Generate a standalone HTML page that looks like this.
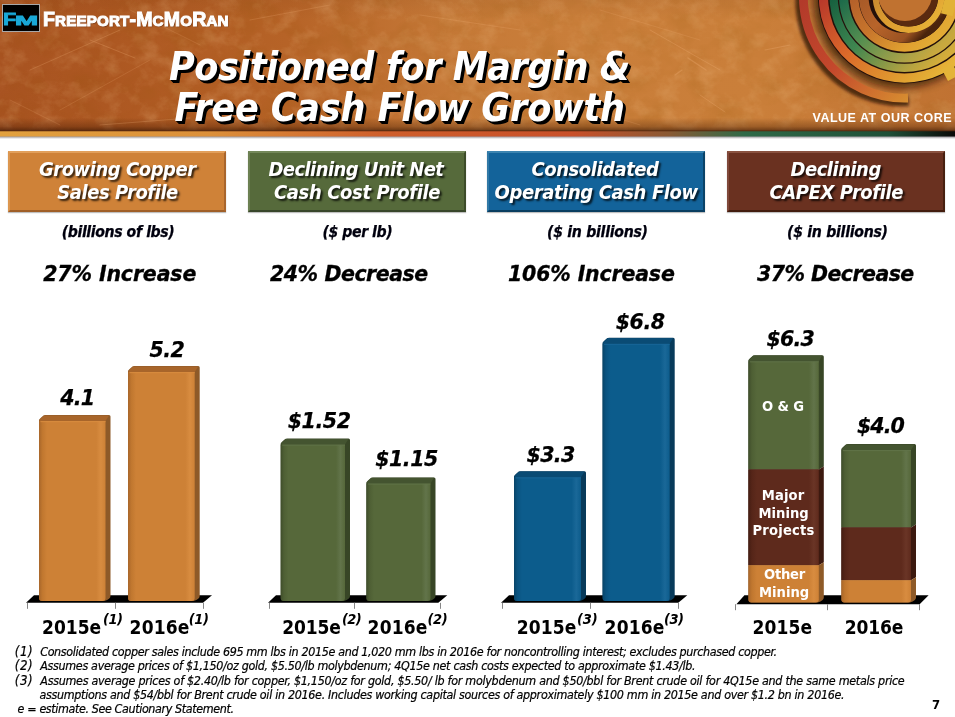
<!DOCTYPE html>
<html lang="en">
<head>
<meta charset="utf-8">
<title>Positioned for Margin &amp; Free Cash Flow Growth</title>
<style>
html,body{margin:0;padding:0;background:#fff;}
body{width:955px;height:717px;position:relative;overflow:hidden;font-family:'DejaVu Sans Condensed','DejaVu Sans','Liberation Sans',sans-serif;}
.t{position:absolute;white-space:pre;margin:0;padding:0;}
#hdr{position:absolute;left:0;top:0;width:955px;height:142px;display:block;}
.box{position:absolute;top:151.2px;height:57.2px;width:213.6px;border-style:solid;border-width:2px;box-shadow:0 1px 1px rgba(0,0,0,.25);}
#b1{left:8.4px;background:#cf8238;border-color:#e2a05c #a9662c #a05f28 #dc964f;}
#b2{left:248px;background:#566a3b;border-color:#74885a #3d4c29 #38462a #6c8052;}
#b3{left:487px;background:#13639a;border-color:#3c84b0 #0a4368 #093d60 #3179a6;}
#b4{left:727.2px;background:#6a3120;border-color:#8a5240 #48200f #421c0e #80483a;}
#logo{position:absolute;left:2px;top:4px;width:36px;height:26px;background:#000;border:1px solid #a8a8a8;overflow:hidden;}
#logo b{position:absolute;color:#19a8d8;font-family:'Liberation Sans','DejaVu Sans',sans-serif;font-weight:bold;-webkit-text-stroke:0.8px #19a8d8;transform-origin:0 0;white-space:pre;}
#lf{left:-0.3px;top:6.6px;font-size:16.6px;line-height:16.6px;transform:scaleX(1.3);-webkit-text-stroke:2.2px #19a8d8;}
#lm{left:11.7px;top:10.1px;font-size:12.6px;line-height:12.6px;transform:scaleX(2.2);-webkit-text-stroke:1.3px #19a8d8;}
#charts{position:absolute;left:0;top:0;width:955px;height:717px;}
</style>
</head>
<body>
<svg id="hdr" viewBox="0 0 955 142">
<defs>
<linearGradient id="hg" x1="0" y1="0" x2="1" y2="0">
<stop offset="0" stop-color="#a85321"/><stop offset=".12" stop-color="#ad5822"/><stop offset=".3" stop-color="#b66327"/><stop offset=".48" stop-color="#c67a38"/><stop offset=".6" stop-color="#c97e3a"/><stop offset=".8" stop-color="#ca7f3a"/><stop offset="1" stop-color="#c07232"/>
</linearGradient>
<linearGradient id="hv" x1="0" y1="0" x2="0" y2="1">
<stop offset="0" stop-color="#3a1400" stop-opacity=".06"/><stop offset=".15" stop-color="#3a1400" stop-opacity="0"/><stop offset=".9" stop-color="#3a1400" stop-opacity="0"/><stop offset=".965" stop-color="#3a1400" stop-opacity=".3"/><stop offset="1" stop-color="#2a0e00" stop-opacity=".62"/>
</linearGradient>
<linearGradient id="band" x1="0" y1="0" x2="1" y2="0">
<stop offset="0" stop-color="#e2a13e"/><stop offset=".22" stop-color="#dc903a"/><stop offset=".4" stop-color="#cf5f2c"/><stop offset=".6" stop-color="#c9502a"/><stop offset=".7" stop-color="#8a5a34"/><stop offset=".78" stop-color="#2f6a48"/><stop offset=".93" stop-color="#1f5038"/><stop offset="1" stop-color="#0a0a08"/>
</linearGradient>
<linearGradient id="sh" x1="0" y1="0" x2="0" y2="1">
<stop offset="0" stop-color="#201028" stop-opacity=".5"/><stop offset="1" stop-color="#000" stop-opacity="0"/>
</linearGradient>
<filter id="nz" x="0" y="0" width="100%" height="100%">
<feTurbulence type="fractalNoise" baseFrequency="0.05 0.06" numOctaves="5" seed="7" result="n"/>
<feColorMatrix in="n" type="matrix" values="0 0 0 0 .92  0 0 0 0 .6  0 0 0 0 .3  1.6 0 0 0 -.72"/>
</filter>
<filter id="nz2" x="0" y="0" width="100%" height="100%">
<feTurbulence type="fractalNoise" baseFrequency="0.03 0.04" numOctaves="4" seed="23" result="n"/>
<feColorMatrix in="n" type="matrix" values="0 0 0 0 .25  0 0 0 0 .08  0 0 0 0 0  0 1.6 0 0 -.68"/>
</filter>
<clipPath id="hc"><rect x="0" y="0" width="955" height="131"/></clipPath>
</defs>
<rect x="0" y="0" width="955" height="131" fill="url(#hg)"/>
<rect x="0" y="0" width="955" height="131" filter="url(#nz)" opacity=".32"/>
<rect x="0" y="0" width="955" height="131" filter="url(#nz2)" opacity=".2"/>
<rect x="0" y="0" width="955" height="131" fill="url(#hv)"/>
<g stroke="#f0b078" stroke-linecap="round" fill="none" opacity=".3">
<path d="M30 70L120 30" stroke-width=".8"/><path d="M60 110L150 60" stroke-width=".6"/><path d="M90 40L135 58" stroke-width=".9"/>
<path d="M250 20L330 5" stroke-width=".7"/><path d="M100 125L190 118" stroke-width=".8"/><path d="M420 15L520 30" stroke-width=".7"/>
<path d="M650 30L720 70" stroke-width=".9"/><path d="M688 58L706 70" stroke-width="1.4"/><path d="M765 50L790 45" stroke-width="1.2"/>
<path d="M675 75L682 70" stroke-width="1.2"/><path d="M700 95L725 112" stroke-width=".9"/><path d="M560 100L640 125" stroke-width=".6"/>
<path d="M10 100L60 125" stroke-width=".6"/><path d="M130 10L200 45" stroke-width=".6"/><path d="M600 10L700 40" stroke-width=".6"/>
</g>
<g clip-path="url(#hc)" fill="none">
<defs><filter id="blur3" x="-20%" y="-20%" width="140%" height="140%"><feGaussianBlur stdDeviation="4"/></filter><filter id="blur2" x="-20%" y="-20%" width="140%" height="140%"><feGaussianBlur stdDeviation="1.5"/></filter><linearGradient id="rA" gradientUnits="userSpaceOnUse" x1="854.0" y1="-53.5" x2="975.9" y2="68.4"><stop offset="0" stop-color="#b23a2a"/><stop offset="0.414" stop-color="#c4482c"/><stop offset="0.83" stop-color="#d68a30"/><stop offset="1" stop-color="#dca83a"/></linearGradient><linearGradient id="rB" gradientUnits="userSpaceOnUse" x1="864.0" y1="-43.5" x2="961.8" y2="54.3"><stop offset="0" stop-color="#b8382a"/><stop offset="0.414" stop-color="#dc6a2a"/><stop offset="0.83" stop-color="#e0a030"/><stop offset="1" stop-color="#e6b438"/></linearGradient><linearGradient id="rC" gradientUnits="userSpaceOnUse" x1="869.1" y1="-38.4" x2="954.6" y2="47.1"><stop offset="0" stop-color="#17603f"/><stop offset="0.414" stop-color="#3f8650"/><stop offset="0.83" stop-color="#b0a242"/><stop offset="1" stop-color="#d4ac3a"/></linearGradient><linearGradient id="rD" gradientUnits="userSpaceOnUse" x1="874.1" y1="-33.4" x2="947.5" y2="40.0"><stop offset="0" stop-color="#1c6a4a"/><stop offset="0.414" stop-color="#558e50"/><stop offset="0.83" stop-color="#aaa248"/><stop offset="1" stop-color="#c8a83e"/></linearGradient><linearGradient id="rE" gradientUnits="userSpaceOnUse" x1="879.3" y1="-28.2" x2="940.1" y2="32.6"><stop offset="0" stop-color="#b4602a"/><stop offset="0.414" stop-color="#c8762c"/><stop offset="0.83" stop-color="#e0a030"/><stop offset="1" stop-color="#e2aa34"/></linearGradient><linearGradient id="rF" gradientUnits="userSpaceOnUse" x1="884.1" y1="-23.4" x2="933.3" y2="25.8"><stop offset="0" stop-color="#a85a28"/><stop offset="0.414" stop-color="#b8642a"/><stop offset="0.83" stop-color="#9a5222"/><stop offset="1" stop-color="#4a240c"/></linearGradient><linearGradient id="rG" gradientUnits="userSpaceOnUse" x1="892.2" y1="-19.3" x2="931.5" y2="20.0"><stop offset="0" stop-color="#c88a30"/><stop offset="0.414" stop-color="#dc9c30"/><stop offset="0.83" stop-color="#e2a634"/><stop offset="1" stop-color="#e6b036"/></linearGradient></defs>
<circle cx="901.5" cy="0" r="88" fill="#200800" opacity=".7" filter="url(#blur3)"/>
<path d="M908.6 100.9A101.1 101.1 0 0 1 806.5 -34.6" stroke="#200800" stroke-width="10.0" opacity=".7" filter="url(#blur2)"/>
<path d="M908.0 98.0A101.1 101.1 0 0 1 809.5 -37.6" stroke="url(#rA)" stroke-width="8.8" />
<circle cx="904.5" cy="-3" r="86.5" fill="#24100a"/>
<path d="M980.6 -30.7A81.0 81.0 0 1 1 828.4 -30.7" stroke="url(#rB)" stroke-width="9.2" />
<path d="M971.0 -27.2A70.8 70.8 0 1 1 838.0 -27.2" stroke="url(#rC)" stroke-width="8.2" />
<path d="M961.6 -23.8A60.8 60.8 0 1 1 847.4 -23.8" stroke="url(#rD)" stroke-width="9.2" />
<path d="M951.9 -20.2A50.4 50.4 0 1 1 857.1 -20.2" stroke="url(#rE)" stroke-width="8.8" />
<path d="M942.7 -16.9A40.7 40.7 0 1 1 866.3 -16.9" stroke="url(#rF)" stroke-width="9.6" />
<path d="M939.1 -14.1A32.6 32.6 0 1 1 877.9 -14.1" stroke="url(#rG)" stroke-width="6.4" />
<circle cx="908.5" cy="-3" r="29.4" fill="#5a2a10"/>
<circle cx="905" cy="-6" r="27" fill="#c07230"/>
<rect x="943" y="-2" width="12" height="17" fill="#e2b236" transform="rotate(14 949 6)"/>
<rect x="944" y="66" width="12" height="13" fill="#e4b438" transform="rotate(-28 950 72)"/>
</g>
<rect x="0" y="136" width="955" height="3" fill="url(#sh)"/>
<rect x="0" y="131" width="955" height="5.5" fill="url(#band)"/>
<rect x="0" y="130" width="955" height="1.5" fill="#5a2a10" opacity=".55"/>
</svg>
<div id="logo"><b id="lf">F</b><b id="lm">M</b></div>
<div class="box" id="b1"></div>
<div class="box" id="b2"></div>
<div class="box" id="b3"></div>
<div class="box" id="b4"></div>
<svg id="charts" viewBox="0 0 955 717">
<defs><linearGradient id="fgo" x1="0" y1="0" x2="1" y2="0"><stop offset="0" stop-color="#a8662a"/><stop offset=".05" stop-color="#c0772f"/><stop offset=".12" stop-color="#cd8136"/><stop offset=".86" stop-color="#cd8136"/><stop offset=".93" stop-color="#d88c40"/><stop offset="1" stop-color="#cd8136"/></linearGradient><linearGradient id="fgg" x1="0" y1="0" x2="1" y2="0"><stop offset="0" stop-color="#3f4d2a"/><stop offset=".05" stop-color="#4e5f34"/><stop offset=".12" stop-color="#56683a"/><stop offset=".86" stop-color="#56683a"/><stop offset=".93" stop-color="#62744a"/><stop offset="1" stop-color="#56683a"/></linearGradient><linearGradient id="fgb" x1="0" y1="0" x2="1" y2="0"><stop offset="0" stop-color="#084468"/><stop offset=".05" stop-color="#0a5380"/><stop offset=".12" stop-color="#0c5c8c"/><stop offset=".86" stop-color="#0c5c8c"/><stop offset=".93" stop-color="#1a6898"/><stop offset="1" stop-color="#0c5c8c"/></linearGradient><linearGradient id="fgr" x1="0" y1="0" x2="1" y2="0"><stop offset="0" stop-color="#451d12"/><stop offset=".05" stop-color="#552518"/><stop offset=".12" stop-color="#5e2a1c"/><stop offset=".86" stop-color="#5e2a1c"/><stop offset=".93" stop-color="#6a3526"/><stop offset="1" stop-color="#5e2a1c"/></linearGradient></defs>
<path d="M34.0 595.3L212.0 595.3L203.0 602.8L26.0 602.8Z" fill="#000"/>
<rect x="27" y="602.8" width="1" height="6" fill="#868686"/>
<rect x="115" y="602.8" width="1" height="6" fill="#868686"/>
<rect x="203" y="602.8" width="1" height="6" fill="#868686"/>
<rect x="26.5" y="602.8" width="177.0" height="1" fill="#8c8c8c" opacity=".0"/>
<path d="M39.0 420.0Q39.5 418.5 43.5 415.5Q44.0 415.0 45.5 415.0L109.0 415.0Q110.5 415.0 110.5 416.5L110.5 596.0Q110.5 599.0 104.5 601.0L42.0 601.0Q39.0 601.0 39.0 598.0Z" fill="#8e5a28"/>
<path d="M39.0 421.0L105.5 421.0L105.5 598.0Q105.5 601.0 102.5 601.0L42.0 601.0Q39.0 601.0 39.0 598.0Z" fill="url(#fgo)"/>
<path d="M39.3 421.0L39.3 420.0L44.0 415.4L109.0 415.4L105.5 421.0Z" fill="#a8652a"/>
<rect x="40.5" y="421.0" width="65.0" height="1.2" fill="#d88c40" opacity=".8"/>
<path d="M128.0 371.0Q128.5 369.5 132.5 366.5Q133.0 366.0 134.5 366.0L198.2 366.0Q199.7 366.0 199.7 367.5L199.7 596.0Q199.7 599.0 193.7 601.0L131.0 601.0Q128.0 601.0 128.0 598.0Z" fill="#8e5a28"/>
<path d="M128.0 372.0L194.7 372.0L194.7 598.0Q194.7 601.0 191.7 601.0L131.0 601.0Q128.0 601.0 128.0 598.0Z" fill="url(#fgo)"/>
<path d="M128.3 372.0L128.3 371.0L133.0 366.4L198.2 366.4L194.7 372.0Z" fill="#a8652a"/>
<rect x="129.5" y="372.0" width="65.2" height="1.2" fill="#d88c40" opacity=".8"/>
<path d="M276.0 595.3L447.3 595.3L438.3 602.8L268.0 602.8Z" fill="#000"/>
<rect x="269" y="602.8" width="1" height="6" fill="#868686"/>
<rect x="354" y="602.8" width="1" height="6" fill="#868686"/>
<rect x="440" y="602.8" width="1" height="6" fill="#868686"/>
<rect x="268.9" y="602.8" width="171.9" height="1" fill="#8c8c8c" opacity=".0"/>
<path d="M280.7 443.5Q281.2 442.0 285.2 439.0Q285.7 438.5 287.2 438.5L348.5 438.5Q350.0 438.5 350.0 440.0L350.0 596.0Q350.0 599.0 344.0 601.0L283.7 601.0Q280.7 601.0 280.7 598.0Z" fill="#384626"/>
<path d="M280.7 444.5L345.0 444.5L345.0 598.0Q345.0 601.0 342.0 601.0L283.7 601.0Q280.7 601.0 280.7 598.0Z" fill="url(#fgg)"/>
<path d="M281.0 444.5L281.0 443.5L285.7 438.9L348.5 438.9L345.0 444.5Z" fill="#445430"/>
<rect x="282.2" y="444.5" width="62.8" height="1.2" fill="#62744a" opacity=".8"/>
<path d="M366.4 482.4Q366.9 480.9 370.9 477.9Q371.4 477.4 372.9 477.4L434.0 477.4Q435.5 477.4 435.5 478.9L435.5 596.0Q435.5 599.0 429.5 601.0L369.4 601.0Q366.4 601.0 366.4 598.0Z" fill="#384626"/>
<path d="M366.4 483.4L430.5 483.4L430.5 598.0Q430.5 601.0 427.5 601.0L369.4 601.0Q366.4 601.0 366.4 598.0Z" fill="url(#fgg)"/>
<path d="M366.7 483.4L366.7 482.4L371.4 477.8L434.0 477.8L430.5 483.4Z" fill="#445430"/>
<rect x="367.9" y="483.4" width="62.6" height="1.2" fill="#62744a" opacity=".8"/>
<path d="M509.0 595.3L687.3 595.3L678.3 602.8L501.0 602.8Z" fill="#000"/>
<rect x="502" y="602.8" width="1" height="6" fill="#868686"/>
<rect x="590" y="602.8" width="1" height="6" fill="#868686"/>
<rect x="678" y="602.8" width="1" height="6" fill="#868686"/>
<rect x="502.1" y="602.8" width="176.9" height="1" fill="#8c8c8c" opacity=".0"/>
<path d="M514.0 476.2Q514.5 474.7 518.5 471.7Q519.0 471.2 520.5 471.2L584.5 471.2Q586.0 471.2 586.0 472.7L586.0 596.0Q586.0 599.0 580.0 601.0L517.0 601.0Q514.0 601.0 514.0 598.0Z" fill="#083a5a"/>
<path d="M514.0 477.2L581.0 477.2L581.0 598.0Q581.0 601.0 578.0 601.0L517.0 601.0Q514.0 601.0 514.0 598.0Z" fill="url(#fgb)"/>
<path d="M514.3 477.2L514.3 476.2L519.0 471.6L584.5 471.6L581.0 477.2Z" fill="#0a4b74"/>
<rect x="515.5" y="477.2" width="65.5" height="1.2" fill="#1a6898" opacity=".8"/>
<path d="M602.6 342.7Q603.1 341.2 607.1 338.2Q607.6 337.7 609.1 337.7L673.2 337.7Q674.7 337.7 674.7 339.2L674.7 596.0Q674.7 599.0 668.7 601.0L605.6 601.0Q602.6 601.0 602.6 598.0Z" fill="#083a5a"/>
<path d="M602.6 343.7L669.7 343.7L669.7 598.0Q669.7 601.0 666.7 601.0L605.6 601.0Q602.6 601.0 602.6 598.0Z" fill="url(#fgb)"/>
<path d="M602.9 343.7L602.9 342.7L607.6 338.1L673.2 338.1L669.7 343.7Z" fill="#0a4b74"/>
<rect x="604.1" y="343.7" width="65.6" height="1.2" fill="#1a6898" opacity=".8"/>
<path d="M744.4 595.3L928.6 595.3L919.6 604.2L736.4 604.2Z" fill="#000"/>
<rect x="735" y="604.2" width="1" height="6" fill="#868686"/>
<rect x="827" y="604.2" width="1" height="6" fill="#868686"/>
<rect x="919" y="604.2" width="1" height="6" fill="#868686"/>
<rect x="735.4" y="604.2" width="184.9" height="1" fill="#8c8c8c" opacity=".0"/>
<path d="M748.4 360.2Q748.9 358.7 752.9 355.7Q753.4 355.2 754.9 355.2L822.3 355.2Q823.8 355.2 823.8 356.7L823.8 466.6L818.8 469.6L748.4 469.6Z" fill="#384626"/>
<path d="M748.4 361.2L818.8 361.2L818.8 469.6L748.4 469.6Z" fill="url(#fgg)"/>
<path d="M748.7 361.2L748.7 360.2L753.4 355.6L822.3 355.6L818.8 361.2Z" fill="#445430"/>
<rect x="749.9" y="361.2" width="68.9" height="1.2" fill="#62744a" opacity=".8"/>
<path d="M748.4 469.6L818.8 469.6L823.8 466.6L823.8 562.2L818.8 565.2L748.4 565.2Z" fill="#3c190f"/>
<path d="M748.4 469.6L818.8 469.6L818.8 565.2L748.4 565.2Z" fill="url(#fgr)"/>
<path d="M748.4 565.2L818.8 565.2L823.8 562.2L823.8 597.4Q823.8 600.4 817.8 602.4L751.4 602.4Q748.4 602.4 748.4 599.4Z" fill="#8e5a28"/>
<path d="M748.4 565.2L818.8 565.2L818.8 599.4Q818.8 602.4 815.8 602.4L751.4 602.4Q748.4 602.4 748.4 599.4Z" fill="url(#fgo)"/>
<path d="M841.4 449.0Q841.9 447.5 845.9 444.5Q846.4 444.0 847.9 444.0L914.5 444.0Q916.0 444.0 916.0 445.5L916.0 524.5L911.0 527.5L841.4 527.5Z" fill="#384626"/>
<path d="M841.4 450.0L911.0 450.0L911.0 527.5L841.4 527.5Z" fill="url(#fgg)"/>
<path d="M841.7 450.0L841.7 449.0L846.4 444.4L914.5 444.4L911.0 450.0Z" fill="#445430"/>
<rect x="842.9" y="450.0" width="68.1" height="1.2" fill="#62744a" opacity=".8"/>
<path d="M841.4 527.5L911.0 527.5L916.0 524.5L916.0 577.3L911.0 580.3L841.4 580.3Z" fill="#3c190f"/>
<path d="M841.4 527.5L911.0 527.5L911.0 580.3L841.4 580.3Z" fill="url(#fgr)"/>
<path d="M841.4 580.3L911.0 580.3L916.0 577.3L916.0 597.4Q916.0 600.4 910.0 602.4L844.4 602.4Q841.4 602.4 841.4 599.4Z" fill="#8e5a28"/>
<path d="M841.4 580.3L911.0 580.3L911.0 599.4Q911.0 602.4 908.0 602.4L844.4 602.4Q841.4 602.4 841.4 599.4Z" fill="url(#fgo)"/>
</svg>
<div class="t" style="left:169.00px;top:46.70px;color:#fff;font-family:'DejaVu Sans Condensed','DejaVu Sans','Liberation Sans',sans-serif;font-weight:bold;font-style:italic;font-stretch:condensed;font-size:39px;line-height:39px;letter-spacing:-0.455px;text-shadow:3px 3px 0 #000,2px 2px 0 #000,1px 1px 0 #000;">Positioned for Margin &amp;</div>
<div class="t" style="left:174.60px;top:88.00px;color:#fff;font-family:'DejaVu Sans Condensed','DejaVu Sans','Liberation Sans',sans-serif;font-weight:bold;font-style:italic;font-stretch:condensed;font-size:39px;line-height:39px;letter-spacing:-0.150px;text-shadow:3px 3px 0 #000,2px 2px 0 #000,1px 1px 0 #000;">Free Cash Flow Growth</div>
<div class="t" style="left:39.00px;top:159.00px;color:#fff;font-family:'DejaVu Sans Condensed','DejaVu Sans','Liberation Sans',sans-serif;font-weight:bold;font-style:italic;font-stretch:condensed;font-size:20px;line-height:20px;letter-spacing:-0.462px;text-shadow:2px 2px 2px rgba(0,0,0,.75);">Growing Copper</div>
<div class="t" style="left:57.30px;top:181.50px;color:#fff;font-family:'DejaVu Sans Condensed','DejaVu Sans','Liberation Sans',sans-serif;font-weight:bold;font-style:italic;font-stretch:condensed;font-size:20px;line-height:20px;letter-spacing:-0.467px;text-shadow:2px 2px 2px rgba(0,0,0,.75);">Sales Profile</div>
<div class="t" style="left:268.50px;top:159.00px;color:#fff;font-family:'DejaVu Sans Condensed','DejaVu Sans','Liberation Sans',sans-serif;font-weight:bold;font-style:italic;font-stretch:condensed;font-size:20px;line-height:20px;letter-spacing:-0.588px;text-shadow:2px 2px 2px rgba(0,0,0,.75);">Declining Unit Net</div>
<div class="t" style="left:274.00px;top:181.50px;color:#fff;font-family:'DejaVu Sans Condensed','DejaVu Sans','Liberation Sans',sans-serif;font-weight:bold;font-style:italic;font-stretch:condensed;font-size:20px;line-height:20px;letter-spacing:-0.375px;text-shadow:2px 2px 2px rgba(0,0,0,.75);">Cash Cost Profile</div>
<div class="t" style="left:531.50px;top:159.00px;color:#fff;font-family:'DejaVu Sans Condensed','DejaVu Sans','Liberation Sans',sans-serif;font-weight:bold;font-style:italic;font-stretch:condensed;font-size:20px;line-height:20px;letter-spacing:-0.455px;text-shadow:2px 2px 2px rgba(0,0,0,.75);">Consolidated</div>
<div class="t" style="left:494.50px;top:181.50px;color:#fff;font-family:'DejaVu Sans Condensed','DejaVu Sans','Liberation Sans',sans-serif;font-weight:bold;font-style:italic;font-stretch:condensed;font-size:20px;line-height:20px;letter-spacing:-0.389px;text-shadow:2px 2px 2px rgba(0,0,0,.75);">Operating Cash Flow</div>
<div class="t" style="left:790.50px;top:159.00px;color:#fff;font-family:'DejaVu Sans Condensed','DejaVu Sans','Liberation Sans',sans-serif;font-weight:bold;font-style:italic;font-stretch:condensed;font-size:20px;line-height:20px;letter-spacing:-0.500px;text-shadow:2px 2px 2px rgba(0,0,0,.75);">Declining</div>
<div class="t" style="left:769.50px;top:181.50px;color:#fff;font-family:'DejaVu Sans Condensed','DejaVu Sans','Liberation Sans',sans-serif;font-weight:bold;font-style:italic;font-stretch:condensed;font-size:20px;line-height:20px;letter-spacing:-0.417px;text-shadow:2px 2px 2px rgba(0,0,0,.75);">CAPEX Profile</div>
<div class="t" style="left:61.80px;top:223.70px;color:#00000e;font-family:'DejaVu Sans Condensed','DejaVu Sans','Liberation Sans',sans-serif;font-weight:bold;font-style:italic;font-stretch:condensed;font-size:15.7px;line-height:15.7px;letter-spacing:-0.412px;-webkit-text-stroke:0.25px #00000e;">(billions of lbs)</div>
<div class="t" style="left:322.50px;top:223.70px;color:#00000e;font-family:'DejaVu Sans Condensed','DejaVu Sans','Liberation Sans',sans-serif;font-weight:bold;font-style:italic;font-stretch:condensed;font-size:15.7px;line-height:15.7px;letter-spacing:-0.444px;-webkit-text-stroke:0.25px #00000e;">($ per lb)</div>
<div class="t" style="left:547.00px;top:223.70px;color:#00000e;font-family:'DejaVu Sans Condensed','DejaVu Sans','Liberation Sans',sans-serif;font-weight:bold;font-style:italic;font-stretch:condensed;font-size:15.7px;line-height:15.7px;letter-spacing:-0.286px;-webkit-text-stroke:0.25px #00000e;">($ in billions)</div>
<div class="t" style="left:787.00px;top:223.70px;color:#00000e;font-family:'DejaVu Sans Condensed','DejaVu Sans','Liberation Sans',sans-serif;font-weight:bold;font-style:italic;font-stretch:condensed;font-size:15.7px;line-height:15.7px;letter-spacing:-0.286px;-webkit-text-stroke:0.25px #00000e;">($ in billions)</div>
<div class="t" style="left:43.20px;top:263.70px;color:#000;font-family:'DejaVu Sans','Liberation Sans',sans-serif;font-weight:bold;font-style:italic;font-stretch:normal;font-size:20.5px;line-height:20.5px;letter-spacing:-0.127px;-webkit-text-stroke:0.3px #000;">27% Increase</div>
<div class="t" style="left:270.00px;top:263.70px;color:#000;font-family:'DejaVu Sans','Liberation Sans',sans-serif;font-weight:bold;font-style:italic;font-stretch:normal;font-size:20.5px;line-height:20.5px;letter-spacing:-0.455px;-webkit-text-stroke:0.3px #000;">24% Decrease</div>
<div class="t" style="left:508.00px;top:263.70px;color:#000;font-family:'DejaVu Sans','Liberation Sans',sans-serif;font-weight:bold;font-style:italic;font-stretch:normal;font-size:20.5px;line-height:20.5px;letter-spacing:-0.167px;-webkit-text-stroke:0.3px #000;">106% Increase</div>
<div class="t" style="left:757.00px;top:263.70px;color:#000;font-family:'DejaVu Sans','Liberation Sans',sans-serif;font-weight:bold;font-style:italic;font-stretch:normal;font-size:20.5px;line-height:20.5px;letter-spacing:-0.545px;-webkit-text-stroke:0.3px #000;">37% Decrease</div>
<div class="t" style="left:60.30px;top:388.20px;color:#000;font-family:'DejaVu Sans','Liberation Sans',sans-serif;font-weight:bold;font-style:italic;font-stretch:normal;font-size:20.6px;line-height:20.6px;letter-spacing:-0.800px;-webkit-text-stroke:0.25px #000;">4.1</div>
<div class="t" style="left:149.50px;top:339.70px;color:#000;font-family:'DejaVu Sans','Liberation Sans',sans-serif;font-weight:bold;font-style:italic;font-stretch:normal;font-size:20.6px;line-height:20.6px;letter-spacing:-0.600px;-webkit-text-stroke:0.25px #000;">5.2</div>
<div class="t" style="left:287.70px;top:411.20px;color:#000;font-family:'DejaVu Sans','Liberation Sans',sans-serif;font-weight:bold;font-style:italic;font-stretch:normal;font-size:20.6px;line-height:20.6px;letter-spacing:-0.450px;-webkit-text-stroke:0.25px #000;">$1.52</div>
<div class="t" style="left:375.20px;top:449.40px;color:#000;font-family:'DejaVu Sans','Liberation Sans',sans-serif;font-weight:bold;font-style:italic;font-stretch:normal;font-size:20.6px;line-height:20.6px;letter-spacing:-0.500px;-webkit-text-stroke:0.25px #000;">$1.15</div>
<div class="t" style="left:526.50px;top:445.30px;color:#000;font-family:'DejaVu Sans','Liberation Sans',sans-serif;font-weight:bold;font-style:italic;font-stretch:normal;font-size:20.6px;line-height:20.6px;letter-spacing:-0.667px;-webkit-text-stroke:0.25px #000;">$3.3</div>
<div class="t" style="left:615.70px;top:311.80px;color:#000;font-family:'DejaVu Sans','Liberation Sans',sans-serif;font-weight:bold;font-style:italic;font-stretch:normal;font-size:20.6px;line-height:20.6px;letter-spacing:-0.467px;-webkit-text-stroke:0.25px #000;">$6.8</div>
<div class="t" style="left:766.50px;top:328.50px;color:#000;font-family:'DejaVu Sans','Liberation Sans',sans-serif;font-weight:bold;font-style:italic;font-stretch:normal;font-size:20.6px;line-height:20.6px;letter-spacing:-0.867px;-webkit-text-stroke:0.25px #000;">$6.3</div>
<div class="t" style="left:857.00px;top:416.40px;color:#000;font-family:'DejaVu Sans','Liberation Sans',sans-serif;font-weight:bold;font-style:italic;font-stretch:normal;font-size:20.6px;line-height:20.6px;letter-spacing:-1.000px;-webkit-text-stroke:0.25px #000;">$4.0</div>
<div class="t" style="left:42.00px;top:617.70px;color:#000;font-family:'DejaVu Sans Condensed','DejaVu Sans','Liberation Sans',sans-serif;font-weight:bold;font-style:normal;font-stretch:condensed;font-size:19px;line-height:19px;letter-spacing:0.000px;">2015e</div>
<div class="t" style="left:129.60px;top:617.70px;color:#000;font-family:'DejaVu Sans Condensed','DejaVu Sans','Liberation Sans',sans-serif;font-weight:bold;font-style:normal;font-stretch:condensed;font-size:19px;line-height:19px;letter-spacing:0.150px;">2016e</div>
<div class="t" style="left:103.00px;top:612.40px;color:#000;font-family:'DejaVu Sans Condensed','DejaVu Sans','Liberation Sans',sans-serif;font-weight:bold;font-style:italic;font-stretch:condensed;font-size:14.5px;line-height:14.5px;letter-spacing:-0.500px;">(1)</div>
<div class="t" style="left:188.70px;top:612.40px;color:#000;font-family:'DejaVu Sans Condensed','DejaVu Sans','Liberation Sans',sans-serif;font-weight:bold;font-style:italic;font-stretch:condensed;font-size:14.5px;line-height:14.5px;letter-spacing:-0.400px;">(1)</div>
<div class="t" style="left:282.20px;top:617.70px;color:#000;font-family:'DejaVu Sans Condensed','DejaVu Sans','Liberation Sans',sans-serif;font-weight:bold;font-style:normal;font-stretch:condensed;font-size:19px;line-height:19px;letter-spacing:-0.100px;">2015e</div>
<div class="t" style="left:367.60px;top:617.70px;color:#000;font-family:'DejaVu Sans Condensed','DejaVu Sans','Liberation Sans',sans-serif;font-weight:bold;font-style:normal;font-stretch:condensed;font-size:19px;line-height:19px;letter-spacing:0.150px;">2016e</div>
<div class="t" style="left:342.00px;top:612.40px;color:#000;font-family:'DejaVu Sans Condensed','DejaVu Sans','Liberation Sans',sans-serif;font-weight:bold;font-style:italic;font-stretch:condensed;font-size:14.5px;line-height:14.5px;letter-spacing:-0.600px;">(2)</div>
<div class="t" style="left:427.40px;top:612.40px;color:#000;font-family:'DejaVu Sans Condensed','DejaVu Sans','Liberation Sans',sans-serif;font-weight:bold;font-style:italic;font-stretch:condensed;font-size:14.5px;line-height:14.5px;letter-spacing:-0.400px;">(2)</div>
<div class="t" style="left:516.70px;top:617.70px;color:#000;font-family:'DejaVu Sans Condensed','DejaVu Sans','Liberation Sans',sans-serif;font-weight:bold;font-style:normal;font-stretch:condensed;font-size:19px;line-height:19px;letter-spacing:0.150px;">2015e</div>
<div class="t" style="left:604.60px;top:617.70px;color:#000;font-family:'DejaVu Sans Condensed','DejaVu Sans','Liberation Sans',sans-serif;font-weight:bold;font-style:normal;font-stretch:condensed;font-size:19px;line-height:19px;letter-spacing:0.150px;">2016e</div>
<div class="t" style="left:577.00px;top:612.40px;color:#000;font-family:'DejaVu Sans Condensed','DejaVu Sans','Liberation Sans',sans-serif;font-weight:bold;font-style:italic;font-stretch:condensed;font-size:14.5px;line-height:14.5px;letter-spacing:-0.200px;">(3)</div>
<div class="t" style="left:664.00px;top:612.40px;color:#000;font-family:'DejaVu Sans Condensed','DejaVu Sans','Liberation Sans',sans-serif;font-weight:bold;font-style:italic;font-stretch:condensed;font-size:14.5px;line-height:14.5px;letter-spacing:-0.500px;">(3)</div>
<div class="t" style="left:752.40px;top:618.20px;color:#000;font-family:'DejaVu Sans Condensed','DejaVu Sans','Liberation Sans',sans-serif;font-weight:bold;font-style:normal;font-stretch:condensed;font-size:19px;line-height:19px;letter-spacing:0.150px;">2015e</div>
<div class="t" style="left:844.70px;top:618.20px;color:#000;font-family:'DejaVu Sans Condensed','DejaVu Sans','Liberation Sans',sans-serif;font-weight:bold;font-style:normal;font-stretch:condensed;font-size:19px;line-height:19px;letter-spacing:-0.100px;">2016e</div>
<div class="t" style="left:762.00px;top:399.00px;color:#fff;font-family:'DejaVu Sans Condensed','DejaVu Sans','Liberation Sans',sans-serif;font-weight:bold;font-style:normal;font-stretch:condensed;font-size:14.6px;line-height:14.6px;letter-spacing:-0.150px;">O &amp; G</div>
<div class="t" style="left:761.70px;top:488.00px;color:#fff;font-family:'DejaVu Sans Condensed','DejaVu Sans','Liberation Sans',sans-serif;font-weight:bold;font-style:normal;font-stretch:condensed;font-size:14.6px;line-height:14.6px;letter-spacing:0.150px;">Major</div>
<div class="t" style="left:758.50px;top:505.70px;color:#fff;font-family:'DejaVu Sans Condensed','DejaVu Sans','Liberation Sans',sans-serif;font-weight:bold;font-style:normal;font-stretch:condensed;font-size:14.6px;line-height:14.6px;letter-spacing:0.000px;">Mining</div>
<div class="t" style="left:752.40px;top:522.60px;color:#fff;font-family:'DejaVu Sans Condensed','DejaVu Sans','Liberation Sans',sans-serif;font-weight:bold;font-style:normal;font-stretch:condensed;font-size:14.6px;line-height:14.6px;letter-spacing:0.229px;">Projects</div>
<div class="t" style="left:764.00px;top:566.80px;color:#fff;font-family:'DejaVu Sans Condensed','DejaVu Sans','Liberation Sans',sans-serif;font-weight:bold;font-style:normal;font-stretch:condensed;font-size:14.6px;line-height:14.6px;letter-spacing:-0.250px;">Other</div>
<div class="t" style="left:759.00px;top:585.00px;color:#fff;font-family:'DejaVu Sans Condensed','DejaVu Sans','Liberation Sans',sans-serif;font-weight:bold;font-style:normal;font-stretch:condensed;font-size:14.6px;line-height:14.6px;letter-spacing:0.000px;">Mining</div>
<div class="t" style="left:14.70px;top:644.80px;color:#000;font-family:'DejaVu Sans Condensed','DejaVu Sans','Liberation Sans',sans-serif;font-weight:normal;font-style:italic;font-stretch:condensed;font-size:13.2px;line-height:13.2px;letter-spacing:0.600px;-webkit-text-stroke:0.2px #000;">(1)</div>
<div class="t" style="left:14.70px;top:659.20px;color:#000;font-family:'DejaVu Sans Condensed','DejaVu Sans','Liberation Sans',sans-serif;font-weight:normal;font-style:italic;font-stretch:condensed;font-size:13.2px;line-height:13.2px;letter-spacing:0.600px;-webkit-text-stroke:0.2px #000;">(2)</div>
<div class="t" style="left:14.70px;top:674.00px;color:#000;font-family:'DejaVu Sans Condensed','DejaVu Sans','Liberation Sans',sans-serif;font-weight:normal;font-style:italic;font-stretch:condensed;font-size:13.2px;line-height:13.2px;letter-spacing:0.600px;-webkit-text-stroke:0.2px #000;">(3)</div>
<div class="t" style="left:40.20px;top:645.80px;color:#000;font-family:'DejaVu Sans Condensed','DejaVu Sans','Liberation Sans',sans-serif;font-weight:normal;font-style:italic;font-stretch:condensed;font-size:12.4px;line-height:12.4px;letter-spacing:-0.339px;-webkit-text-stroke:0.2px #000;">Consolidated copper sales include 695 mm lbs in 2015e and 1,020 mm lbs in 2016e for noncontrolling interest; excludes purchased copper.</div>
<div class="t" style="left:40.30px;top:660.20px;color:#000;font-family:'DejaVu Sans Condensed','DejaVu Sans','Liberation Sans',sans-serif;font-weight:normal;font-style:italic;font-stretch:condensed;font-size:12.4px;line-height:12.4px;letter-spacing:-0.319px;-webkit-text-stroke:0.2px #000;">Assumes average prices of $1,150/oz gold, $5.50/lb molybdenum; 4Q15e net cash costs expected to approximate $1.43/lb.</div>
<div class="t" style="left:40.30px;top:675.00px;color:#000;font-family:'DejaVu Sans Condensed','DejaVu Sans','Liberation Sans',sans-serif;font-weight:normal;font-style:italic;font-stretch:condensed;font-size:12.4px;line-height:12.4px;letter-spacing:-0.276px;-webkit-text-stroke:0.2px #000;">Assumes average prices of $2.40/lb for copper, $1,150/oz for gold, $5.50/ lb for molybdenum and $50/bbl for Brent crude oil for 4Q15e and the same metals price</div>
<div class="t" style="left:39.50px;top:689.20px;color:#000;font-family:'DejaVu Sans Condensed','DejaVu Sans','Liberation Sans',sans-serif;font-weight:normal;font-style:italic;font-stretch:condensed;font-size:12.4px;line-height:12.4px;letter-spacing:-0.308px;-webkit-text-stroke:0.2px #000;">assumptions and $54/bbl for Brent crude oil in 2016e. Includes working capital sources of approximately $100 mm in 2015e and over $1.2 bn in 2016e.</div>
<div class="t" style="left:17.60px;top:703.40px;color:#000;font-family:'DejaVu Sans Condensed','DejaVu Sans','Liberation Sans',sans-serif;font-weight:normal;font-style:italic;font-stretch:condensed;font-size:12.4px;line-height:12.4px;letter-spacing:-0.374px;-webkit-text-stroke:0.2px #000;">e = estimate. See Cautionary Statement.</div>
<div class="t" style="left:932.10px;top:697.60px;color:#000;font-family:'DejaVu Sans Condensed','DejaVu Sans','Liberation Sans',sans-serif;font-weight:bold;font-style:normal;font-stretch:condensed;font-size:13px;line-height:13px;letter-spacing:0.000px;">7</div>
<div class="t" style="left:812.50px;top:111.60px;color:#fff;font-family:'Liberation Sans','DejaVu Sans',sans-serif;font-weight:bold;font-style:normal;font-stretch:normal;font-size:12.5px;line-height:12.5px;letter-spacing:0.500px;">VALUE AT OUR CORE</div>
<div class="t" style="left:43.00px;top:9.90px;color:#fff;font-family:'Liberation Sans','DejaVu Sans',sans-serif;font-weight:bold;font-style:normal;font-stretch:normal;font-size:19.6px;line-height:19.6px;letter-spacing:0.133px;-webkit-text-stroke:1px #fff;text-shadow:1px 1px 1px rgba(60,20,0,.5);">F<span style="font-size:15.2px">REEPORT</span>-M<span style="font-size:15.2px">C</span>M<span style="font-size:15.2px">O</span>R<span style="font-size:15.2px">AN</span></div>
</body>
</html>
